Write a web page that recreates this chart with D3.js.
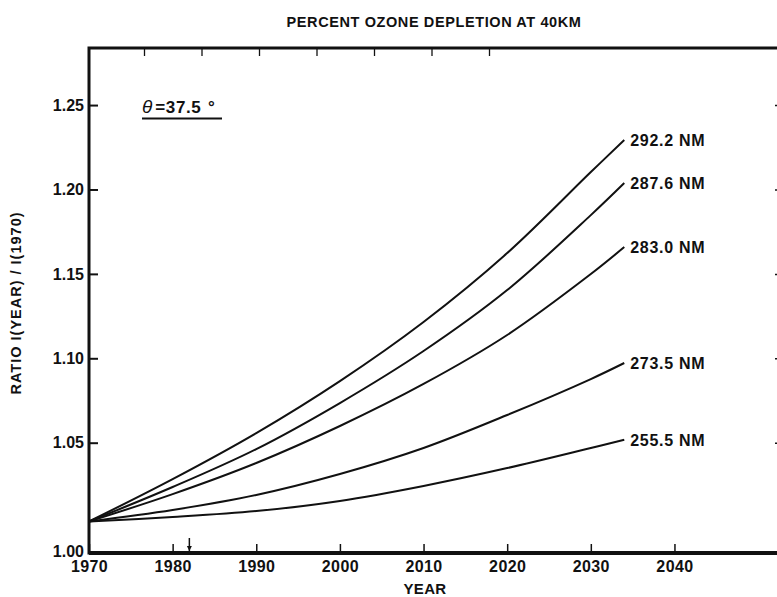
<!DOCTYPE html>
<html><head><meta charset="utf-8">
<script src="https://cdn.jsdelivr.net/npm/d3@7"></script>
<style>
body{margin:0;background:#fff}
svg{display:block}
text{font-family:"Liberation Sans",Arial,Helvetica,sans-serif;font-weight:bold;fill:#111}
</style>
</head><body>
<svg id="chart" width="777" height="597"></svg>
<script>
// ---- data ----
const years = [1970, 1980, 1990, 2000, 2010, 2020, 2030, 2034];
const seriesNames = ["292.2 NM", "287.6 NM", "283.0 NM", "273.5 NM", "255.5 NM"];
const s2922 = [1.0143, 1.0335, 1.0557, 1.0865, 1.1215, 1.1623, 1.2103, 1.2293];
const s2876 = [1.0143, 1.0299, 1.0471, 1.0735, 1.1043, 1.1404, 1.1848, 1.2038];
const s2830 = [1.0143, 1.0267, 1.0408, 1.0599, 1.0848, 1.1138, 1.1499, 1.1659];
const s2735 = [1.0143, 1.0195, 1.0263, 1.0358, 1.0476, 1.0664, 1.0877, 1.0972];
const s2555 = [1.0143, 1.0163, 1.0190, 1.0236, 1.0304, 1.0385, 1.0476, 1.0517];
const seriesValues = [s2922, s2876, s2830, s2735, s2555];
const xTicks = [1970, 1980, 1990, 2000, 2010, 2020, 2030, 2040];
const yTicks = [1.00, 1.05, 1.10, 1.15, 1.20, 1.25];
const markerYear = 1982;
const topTickIndex = [0, 1, 2, 3, 4, 5, 6];
const titleText = "PERCENT OZONE DEPLETION AT 40KM";
const xLabel = "YEAR";
const yLabel = "RATIO I(YEAR) / I(1970)";
const angleLabel = ["θ", "=37.5", " °"];

// ---- layout ----
const svg = d3.select("#chart");
const x = d3.scaleLinear().domain([1970, 2052.5]).range([89, 779]);
const y = d3.scaleLinear().domain([1.00, 1.05, 1.2838]).range([553, 442.7, 48]);
const xTop = d3.scaleLinear().domain([0, 6]).range([144, 489]);

// series lines
const line = d3.line().x((d, i) => x(years[i])).y(d => y(d)).curve(d3.curveCatmullRom.alpha(0.5));
svg.append("g").selectAll("path").data(seriesValues).join("path")
  .attr("d", d => line(d)).attr("fill", "none").attr("stroke", "#111").attr("stroke-width", 2);

// end labels
svg.append("g").selectAll("text").data(seriesValues).join("text")
  .attr("x", d => x(years[years.length - 1]) + 6)
  .attr("y", d => y(d[d.length - 1]))
  .attr("dy", "0.36em")
  .style("font-size", "16px").style("letter-spacing", "0.7px")
  .text((d, i) => seriesNames[i]);

// left axis
const gy = svg.append("g").attr("transform", `translate(${x(1970)},0)`)
  .call(d3.axisLeft(y).tickValues(yTicks).tickFormat(d3.format(".2f")).tickSize(-9).tickPadding(5));
gy.select(".domain").remove();
gy.selectAll("line").attr("stroke", "#111").attr("stroke-width", 2);
gy.selectAll("text").style("font-size", "16px").attr("font-family", null);
gy.selectAll("text").filter(d => d === 1.00).attr("dy", "0.2em");

// bottom axis
const gx = svg.append("g").attr("transform", `translate(0,${y(1.00)})`)
  .call(d3.axisBottom(x).tickValues(xTicks).tickFormat(d3.format("d")).tickSize(-9).tickPadding(8));
gx.select(".domain").remove();
gx.selectAll("line").attr("stroke", "#111").attr("stroke-width", 1.5);
gx.selectAll("text").style("font-size", "16px").style("letter-spacing", "0.4px").attr("font-family", null);

// right frame ticks
const gr = svg.append("g").attr("transform", `translate(${x(2052.5)},0)`)
  .call(d3.axisRight(y).tickValues(yTicks).tickFormat("").tickSize(-4));
gr.select(".domain").remove();
gr.selectAll("line").attr("stroke", "#111").attr("stroke-width", 1.5);

// top frame ticks
const gt = svg.append("g").attr("transform", `translate(0,${y(1.2838)})`)
  .call(d3.axisTop(xTop).tickValues(topTickIndex).tickFormat("").tickSize(-8));
gt.select(".domain").remove();
gt.selectAll("line").attr("stroke", "#111").attr("stroke-width", 1.3);

// frame
const fx0 = x(1970), fx1 = x(2052.5), fy0 = y(1.2838), fy1 = y(1.00);
svg.append("path").attr("d", `M${fx0},${fy1}V${fy0}H${fx1}V${fy1}Z`)
  .attr("fill", "none").attr("stroke", "#111").attr("stroke-width", 3);
svg.append("line").attr("x1", fx0).attr("x2", fx1).attr("y1", fy1).attr("y2", fy1)
  .attr("stroke", "#111").attr("stroke-width", 4);

// marker arrow at 1982
const mx = x(markerYear);
svg.append("line").attr("x1", mx).attr("x2", mx).attr("y1", fy1 - 15).attr("y2", fy1)
  .attr("stroke", "#111").attr("stroke-width", 1.5);
svg.append("path").attr("d", `M${mx - 2.5},${fy1 - 7}L${mx + 2.5},${fy1 - 7}L${mx},${fy1 - 2}Z`).attr("fill", "#111");

// title
svg.append("text").attr("x", 434).attr("y", 27).attr("text-anchor", "middle")
  .style("font-size", "14.5px").style("letter-spacing", "0.6px").text(titleText);

// x label
svg.append("text").attr("x", 425).attr("y", 594).attr("text-anchor", "middle")
  .style("font-size", "15px").style("letter-spacing", "0.3px").text(xLabel);

// y label
svg.append("text").attr("transform", "translate(21,303) rotate(-90)").attr("text-anchor", "middle")
  .style("font-size", "14.5px").style("letter-spacing", "1px").text(yLabel);

// angle label
const at = svg.append("text").attr("x", 142).attr("y", 113).style("font-size", "17px");
at.append("tspan").style("font-style", "italic").style("font-weight", "normal").style("font-size", "19px").text(angleLabel[0]);
at.append("tspan").attr("dx", 3).style("letter-spacing", "0.6px").text(angleLabel[1]);
at.append("tspan").attr("dx", 2).text(angleLabel[2]);
svg.append("line").attr("x1", 142).attr("x2", 222).attr("y1", 118.5).attr("y2", 118.5)
  .attr("stroke", "#111").attr("stroke-width", 1.8);
</script>
</body></html>
